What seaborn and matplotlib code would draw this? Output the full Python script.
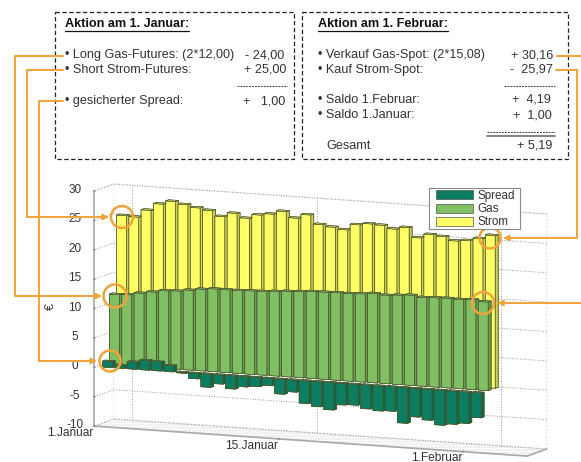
import numpy as np
import seaborn as sns
import matplotlib
matplotlib.use("Agg")
import matplotlib.pyplot as plt
from matplotlib.colors import to_rgb
from matplotlib.patches import Circle, Patch, Rectangle

# Daily prices over the hedging period, in euro
strom = [25.0, 24.9, 26.2, 27.4, 28.0, 27.6, 27.2, 26.9, 26.0, 26.7, 26.0,
         26.7, 27.0, 27.6, 26.6, 27.3, 25.8, 25.5, 25.2, 26.2, 26.5, 26.4,
         25.9, 26.3, 24.7, 25.4, 25.2, 24.6, 24.8, 25.3, 25.97]
gas = [12.0, 12.1, 12.5, 12.85, 13.2, 13.3, 13.6, 13.9, 14.1, 14.1, 14.1,
       14.2, 14.25, 14.4, 14.55, 14.65, 14.8, 14.85, 14.9, 14.9, 15.0, 15.2,
       15.05, 15.2, 15.35, 15.1, 15.2, 15.25, 15.2, 15.3, 15.08]
spread = [1.0, 0.5, 1.2, 1.6, 1.5, 1.0, -0.1, -0.9, -2.2, -1.5, -2.2,
          -1.7, -1.5, -1.2, -2.5, -2.0, -3.8, -4.2, -4.6, -3.6, -3.5, -4.0,
          -4.2, -4.1, -6.0, -4.8, -5.2, -5.9, -5.6, -5.3, -4.19]
series_names = ["Spread", "Gas", "Strom"]
date_ticks = [0, 15, 30]
date_labels = ["1.Januar", "15.Januar", "1.Februar"]
value_ticks = [-10, -5, 0, 5, 10, 15, 20, 25, 30]

sns.set_theme(style="white")
plt.rcParams["font.family"] = ["Liberation Sans", "DejaVu Sans"]
palette = sns.color_palette(["#0b7d60", "#80bf64", "#ffff66"])
TEXT = "#333333"
ORANGE = "#f2a33a"
GRID = "#999999"

W, H = 581, 462
fig = plt.figure(figsize=(W / 100, H / 100), dpi=100)


def face_colours(base):
    """Colours for the six faces of a bar: bottom, top, front, back, left, right."""
    rgb = np.array(to_rgb(base))
    top = tuple(rgb + (1 - rgb) * 0.25)
    side = tuple(rgb * 0.82)
    return [tuple(rgb), top, tuple(rgb), tuple(rgb), side, side]


# 3D bars
ax = fig.add_axes([0.051, -0.196, 0.98, 0.98], projection="3d",
                  proj_type="ortho", computed_zorder=False)
ax.view_init(elev=9.03, azim=-66.2)
X_RANGE = (-0.3, 34.7)
Y_RANGE = (-0.3, 2.5)
ax.set_xlim(*X_RANGE)
ax.set_ylim(*Y_RANGE)
ax.set_zlim(-10, 30)
ax.set_box_aspect((465, 48, 234), zoom=1.14)

days = np.arange(len(strom))
for depth, (values, colour) in enumerate(zip([spread, gas, strom], palette)):
    values = np.asarray(values, dtype=float)
    ax.bar3d(days, np.full(len(days), depth), np.minimum(values, 0),
             0.8, 0.42, np.abs(values), color=face_colours(colour) * len(days),
             shade=False, edgecolor="#4a5528", linewidth=0.5, zorder=10 - depth)

# Date ticks sit half a bar ahead of their day; wall grid lines follow the bars
ax.set_xticks(np.array(date_ticks) - 0.5)
ax.set_xticklabels(date_labels, fontsize=8.6, color=TEXT, ha="right", va="bottom")
ax.set_yticks([])
ax.set_zticks(value_ticks)
ax.set_zticklabels([str(v) for v in value_ticks], fontsize=8.5, color=TEXT,
                   va="center")
ax.zaxis.set_ticks_position("lower")
ax.xaxis.set_ticks_position("lower")
ax.tick_params(axis="z", pad=-0.7, colors=TEXT, color="#888888")
ax.tick_params(axis="x", pad=1, colors=TEXT, color="#888888")
ax.zaxis._axinfo["tick"].update(outward_factor=0.35, inward_factor=0.0)
for axis in (ax.xaxis, ax.yaxis, ax.zaxis):
    axis.pane.set_facecolor((1, 1, 1, 0))
    axis.pane.set_edgecolor("#bbbbbb")
    axis.pane.set_linestyle(":")
    axis._axinfo["grid"].update(color=GRID, linestyle=":", linewidth=0.7)
    axis.line.set_color("#aaaaaa")
ax.xaxis._axinfo["grid"].update(color=(0, 0, 0, 0))
ax.zaxis.pane.set_hatch("......")
ax.zaxis.pane.set_edgecolor("#c8c8c8")
for tick in date_ticks:
    ax.plot([tick + 1, tick + 1], [Y_RANGE[1], Y_RANGE[1]], [-10, 30], color=GRID,
            ls=":", lw=0.7, zorder=1)

# Overlay in pixel units for the tables, connectors and legend
ov = fig.add_axes([0, 0, 1, 1], zorder=20)
ov.set_xlim(0, W)
ov.set_ylim(H, 0)
ov.axis("off")
ov.patch.set_alpha(0)

for x0, x1 in [(55, 294), (302, 568)]:
    ov.add_patch(Rectangle((x0, 12), x1 - x0, 147, fill=False, ec="#222222",
                           lw=0.9, ls=(0, (3.5, 2))))

FONT = 9.1


def label(x, y, s, ha="left", **kw):
    ov.text(x, y, s, ha=ha, va="center", fontsize=FONT, color=TEXT, **kw)


def title(x, y, s):
    t = ov.text(x, y, s, ha="left", va="center", fontsize=FONT,
                fontweight="bold", color="#111111")
    fig.canvas.draw()
    bb = t.get_window_extent().transformed(ov.transData.inverted())
    ov.plot([bb.x0, bb.x1], [y + 6.5, y + 6.5], color="#111111", lw=0.9)


title(65, 24, "Aktion am 1. Januar:")
label(65, 55, "• Long Gas-Futures: (2*12,00)")
label(284, 55, "- 24,00", "right")
label(65, 70, "• Short Strom-Futures:")
label(286, 70, "+ 25,00", "right")
ov.plot([237, 287], [86, 86], color="#444444", lw=0.7, ls=(0, (2, 1)))
label(65, 101, "• gesicherter Spread:")
label(285, 101, "+   1,00", "right")

title(318, 24, "Aktion am 1. Februar:")
label(318, 55, "• Verkauf Gas-Spot: (2*15,08)")
label(553, 55, "+ 30,16", "right")
label(318, 70, "• Kauf Strom-Spot:")
label(553, 70, "-  25,97", "right")
ov.plot([504, 555], [86, 86], color="#444444", lw=0.7, ls=(0, (2, 1)))
label(318, 100, "• Saldo 1.Februar:")
label(551, 100, "+  4,19", "right")
label(318, 115, "• Saldo 1.Januar:")
label(552, 115, "+  1,00", "right")
ov.plot([487, 555], [132, 132], color="#444444", lw=0.7, ls=(0, (2, 1)))
ov.plot([487, 555], [136, 136], color="#777777", lw=1.3)
label(326, 146, "Gesamt")
label(552, 146, "+ 5,19", "right")

# Connectors from the table rows to the bars
paths = [
    ([63, 15, 15, 98], [56, 56, 296, 296]),
    ([63, 27, 27, 105], [70, 70, 217, 217]),
    ([63, 39, 39, 93], [101, 101, 361, 361]),
    ([557, 581], [56, 56]),
    ([556, 577, 577, 507], [70, 70, 238, 238]),
    ([581, 501], [303, 303]),
]
for xs, ys in paths:
    ov.plot(xs, ys, color=ORANGE, lw=1.4, solid_joinstyle="miter", clip_on=True)
tips = [((102, 296), (96, 296)), ((109, 217), (103, 217)), ((97, 361), (91, 361)),
        ((503, 238), (510, 238)), ((497, 303), (504, 303))]
for tip, tail in tips:
    ov.annotate("", xy=tip, xytext=tail,
                arrowprops=dict(arrowstyle="-|>", color=ORANGE, lw=1.2,
                                mutation_scale=9, shrinkA=0, shrinkB=0))
for cx, cy, r in [(122, 217, 11), (115, 296, 11.5), (110, 361, 10.5),
                  (490, 238, 10.5), (483, 303, 11)]:
    ov.add_patch(Circle((cx, cy), r, fill=False, ec=ORANGE, lw=1.8))

ov.text(51, 307, "€", rotation=90, ha="center", va="center", fontsize=9,
        color=TEXT)

# Legend: a fixed frame with the entries laid out inside it
ov.add_patch(Rectangle((429, 188), 91, 41, fc="white", ec="#888888", lw=0.8,
                       zorder=5))
handles = [Patch(facecolor=c, edgecolor="#555555", linewidth=0.5) for c in palette]
leg = ov.legend(handles, series_names, loc="upper left",
                bbox_to_anchor=(436, 190), bbox_transform=ov.transData,
                fontsize=8.4, frameon=False, borderpad=0, labelspacing=0.1,
                handlelength=3.2, handleheight=0.8, handletextpad=0.35,
                labelcolor=TEXT, borderaxespad=0)
leg.set_zorder(6)

fig.savefig("out.png", dpi=100)
